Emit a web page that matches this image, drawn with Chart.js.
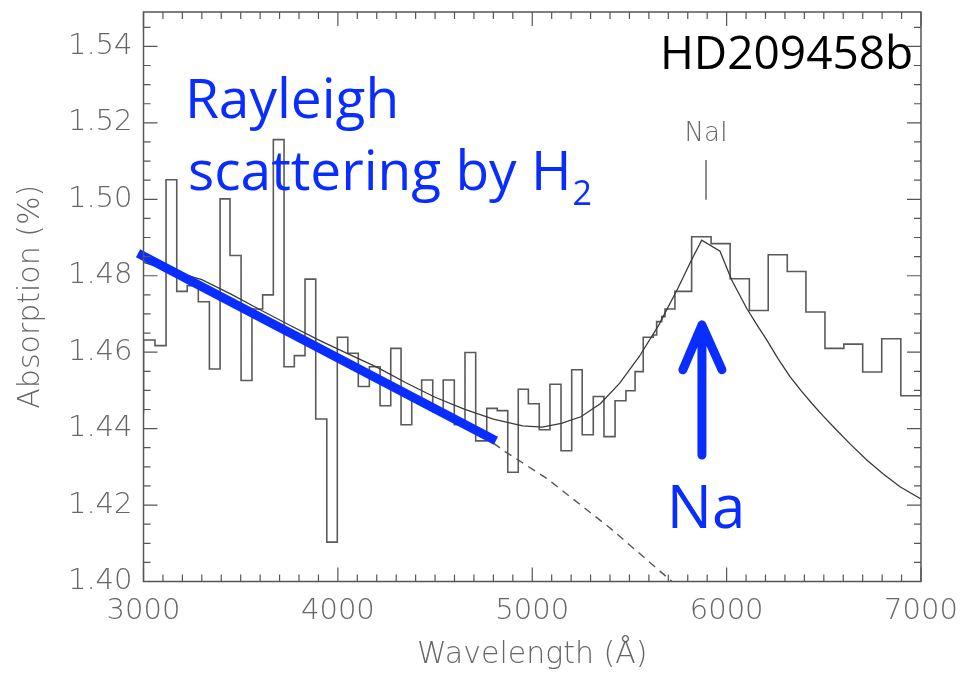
<!DOCTYPE html>
<html>
<head>
<meta charset="utf-8">
<script src="https://cdn.jsdelivr.net/npm/chart.js@4.4.1/dist/chart.umd.min.js"></script>
<style>
  html, body { margin: 0; padding: 0; background: #fff; }
  #caja { width: 961px; height: 674px; }
</style>
</head>
<body>
<div id="caja"><canvas id="espectro" width="961" height="674"></canvas></div>
<script>
// ticks
const xTicks = [3000, 4000, 5000, 6000, 7000];
const yTicks = [1.40, 1.42, 1.44, 1.46, 1.48, 1.50, 1.52, 1.54];

// observed spectrum: bin edges (A) and absorption per bin (%)
const binEdges = [3000, 3059, 3116, 3171, 3225, 3282, 3339, 3394, 3445, 3502,
  3558, 3613, 3668, 3723, 3776, 3831, 3886, 3943, 3997, 4051,
  4105, 4162, 4217, 4272, 4325, 4380, 4431, 4488, 4542, 4599,
  4654, 4709, 4766, 4820, 4874, 4928, 4980, 5036, 5091, 5148,
  5203, 5257, 5314, 5369, 5426, 5482, 5529, 5571, 5623, 5640,
  5666, 5683, 5734, 5820, 5920, 6018, 6117, 6214, 6312, 6408,
  6506, 6603, 6700, 6798, 6896, 7000];
const binValues = [1.4632, 1.4617, 1.5051, 1.4759, 1.4774, 1.4732, 1.4556, 1.5001, 1.4853, 1.4526,
  1.4713, 1.4750, 1.5156, 1.4562, 1.4591, 1.4791, 1.4425, 1.4103, 1.4639, 1.4597,
  1.4510, 1.4562, 1.4460, 1.4610, 1.4410, 1.4480, 1.4527, 1.4444, 1.4527, 1.4410,
  1.4599, 1.4368, 1.4453, 1.4447, 1.4286, 1.4503, 1.4465, 1.4397, 1.4516, 1.4342,
  1.4554, 1.4384, 1.4484, 1.4379, 1.4473, 1.4499, 1.4549, 1.4639, 1.4645, 1.4680,
  1.4693, 1.4713, 1.4759, 1.4902, 1.4884, 1.4792, 1.4709, 1.4855, 1.4811, 1.4705,
  1.4610, 1.4621, 1.4548, 1.4635, 1.4486];
const bordeInicio = 1.4440;
const bordeFinal = 1.4685;

// model (Rayleigh + NaI)
const modeloWave = [3000, 3150, 3300, 3450, 3600, 3750, 3900, 4050, 4200, 4350,
  4500, 4650, 4800, 4950, 5050, 5150, 5250, 5350, 5450, 5550,
  5650, 5750, 5820, 5872, 5966, 6026, 6103, 6160, 6206, 6266, 6326, 6385, 6440,
  6495, 6549, 6635, 6721, 6806, 6892, 7000];
const modeloAbs = [1.4835, 1.4812, 1.4790, 1.4752, 1.4711, 1.4671, 1.4632, 1.4596, 1.4561, 1.4520,
  1.4482, 1.4451, 1.4425, 1.4407, 1.4404, 1.4414, 1.4431, 1.4465, 1.4519, 1.4588,
  1.4670, 1.4768, 1.4842, 1.4893, 1.4864, 1.4789, 1.4715, 1.4668, 1.4632, 1.4582, 1.4536, 1.4498, 1.4465,
  1.4434, 1.4405, 1.4360, 1.4318, 1.4281, 1.4248, 1.4216];

// pure Rayleigh continuation (dashed)
const rayleighWave = [4800, 4860, 5074, 5400, 5719];
const rayleighAbs = [1.4362, 1.4340, 1.4270, 1.4140, 1.4000];

// thick blue slope
const pendienteWave = [2972, 4813];
const pendienteAbs = [1.4859, 1.4368];

const azul = '#0a2dff';

function pares(xs, ys) {
  return xs.map((x, i) => ({ x: x, y: ys[i] }));
}

const puntosHist = [{ x: binEdges[0], y: bordeInicio }]
  .concat(binValues.map((v, i) => ({ x: binEdges[i], y: v })))
  .concat([
    { x: binEdges[binEdges.length - 1], y: binValues[binValues.length - 1] },
    { x: binEdges[binEdges.length - 1], y: bordeFinal }
  ]);

// inward ticks + frame, IDL style
const marco = {
  id: 'marco',
  afterDatasetsDraw(chart) {
    const { ctx, chartArea: a, scales: { x, y } } = chart;
    ctx.save();
    ctx.strokeStyle = '#555';
    ctx.lineWidth = 1.5;
    ctx.strokeRect(a.left, a.top, a.right - a.left, a.bottom - a.top);
    ctx.lineWidth = 1.2;
    ctx.beginPath();
    for (let w = xTicks[0]; w <= xTicks[xTicks.length - 1]; w += 100) {
      const px = x.getPixelForValue(w);
      const largo = w % 1000 === 0 ? 14 : 7;
      ctx.moveTo(px, a.bottom); ctx.lineTo(px, a.bottom - largo);
      ctx.moveTo(px, a.top); ctx.lineTo(px, a.top + largo);
    }
    for (let k = 0; k <= 29; k++) {
      const v = 1.40 + k * 0.005;
      if (v > y.max) break;
      const py = y.getPixelForValue(v);
      const largo = k % 4 === 0 ? 14 : 7;
      ctx.moveTo(a.left, py); ctx.lineTo(a.left + largo, py);
      ctx.moveTo(a.right, py); ctx.lineTo(a.right - largo, py);
    }
    ctx.stroke();
    ctx.restore();
  }
};

// labels, arrow and NaI marker
const notas = {
  id: 'notas',
  afterDraw(chart) {
    const { ctx, scales: { x, y } } = chart;
    const X = v => x.getPixelForValue(v);
    const Y = v => y.getPixelForValue(v);
    ctx.save();

    ctx.fillStyle = azul;
    ctx.textBaseline = 'alphabetic';
    ctx.textAlign = 'left';
    ctx.font = '55px "Open Sans"';
    ctx.fillText('Rayleigh', X(3213), Y(1.5213));
    ctx.fillText('scattering by H', X(3229), Y(1.5025));
    const anchoH = ctx.measureText('scattering by H').width;
    ctx.font = '34px "Open Sans"';
    ctx.fillText('2', X(3229) + anchoH + 1, Y(1.4986));

    ctx.font = '60px "Open Sans"';
    ctx.textAlign = 'center';
    ctx.fillText('Na', X(5894), Y(1.4140));

    ctx.fillStyle = '#000';
    ctx.font = '46px "Open Sans"';
    ctx.textAlign = 'left';
    ctx.fillText('HD209458b', X(5657), Y(1.5342));

    ctx.fillStyle = '#666';
    ctx.font = '200 26px "DejaVu Sans"';
    ctx.textAlign = 'center';
    ctx.fillText('NaI', X(5894), Y(1.5152));
    ctx.strokeStyle = '#444';
    ctx.lineWidth = 1.2;
    ctx.beginPath();
    ctx.moveTo(X(5894), Y(1.5103));
    ctx.lineTo(X(5894), Y(1.4999));
    ctx.stroke();

    // arrow
    ctx.strokeStyle = azul;
    ctx.lineWidth = 9;
    ctx.lineCap = 'round';
    ctx.lineJoin = 'round';
    ctx.beginPath();
    ctx.moveTo(X(5873), Y(1.4331));
    ctx.lineTo(X(5873), Y(1.4671));
    ctx.moveTo(X(5775), Y(1.4554));
    ctx.lineTo(X(5873), Y(1.4671));
    ctx.lineTo(X(5976), Y(1.4554));
    ctx.stroke();
    ctx.restore();
  }
};

const fuenteTicks = { family: '"DejaVu Sans"', size: 29, weight: '200' };
const fuenteTitulo = { family: '"DejaVu Sans"', size: 30, weight: '200' };

const grafico = new Chart(document.getElementById('espectro'), {
  type: 'line',
  data: {
    datasets: [
      {
        label: 'pendiente',
        data: pares(pendienteWave, pendienteAbs),
        borderColor: azul,
        borderWidth: 9,
        pointRadius: 0,
        clip: false,
        order: 0
      },
      {
        label: 'modelo',
        data: pares(modeloWave, modeloAbs),
        borderColor: '#3a3a3a',
        borderWidth: 1.3,
        pointRadius: 0,
        order: 1
      },
      {
        label: 'rayleigh',
        data: pares(rayleighWave, rayleighAbs),
        borderColor: '#555',
        borderWidth: 1.4,
        borderDash: [8, 6],
        pointRadius: 0,
        order: 2
      },
      {
        label: 'espectro',
        data: puntosHist,
        borderColor: '#5a5a5a',
        borderWidth: 1.6,
        pointRadius: 0,
        stepped: 'before',
        order: 3
      }
    ]
  },
  options: {
    responsive: false,
    animation: false,
    layout: { padding: { left: 0, right: 40, top: 12, bottom: 0 } },
    plugins: { legend: { display: false }, tooltip: { enabled: false } },
    scales: {
      x: {
        type: 'linear',
        min: 3000,
        max: 7000,
        grid: { display: false, drawTicks: false },
        border: { display: false },
        afterBuildTicks: s => { s.ticks = xTicks.map(v => ({ value: v })); },
        afterFit: s => { s.height = 92.5; s.paddingLeft = 0; s.paddingRight = 0; },
        ticks: {
          autoSkip: false,
          maxRotation: 0,
          padding: 13,
          color: '#666',
          font: fuenteTicks,
          callback: v => String(v)
        },
        title: {
          display: true,
          text: 'Wavelength (Å)',
          color: '#666',
          font: fuenteTitulo,
          padding: { top: 0, bottom: 1 }
        }
      },
      y: {
        type: 'linear',
        min: 1.40,
        max: 1.549,
        grid: { display: false, drawTicks: false },
        border: { display: false },
        afterBuildTicks: s => { s.ticks = yTicks.map(v => ({ value: v })); },
        afterFit: s => { s.width = 143.5; s.paddingTop = 0; s.paddingBottom = 0; },
        ticks: {
          autoSkip: false,
          padding: 11,
          color: '#666',
          font: fuenteTicks,
          callback: v => v.toFixed(2)
        },
        title: {
          display: true,
          text: 'Absorption (%)',
          color: '#666',
          font: fuenteTitulo,
          padding: { top: 13, bottom: 0 }
        }
      }
    }
  },
  plugins: [marco, notas]
});
</script>
</body>
</html>
